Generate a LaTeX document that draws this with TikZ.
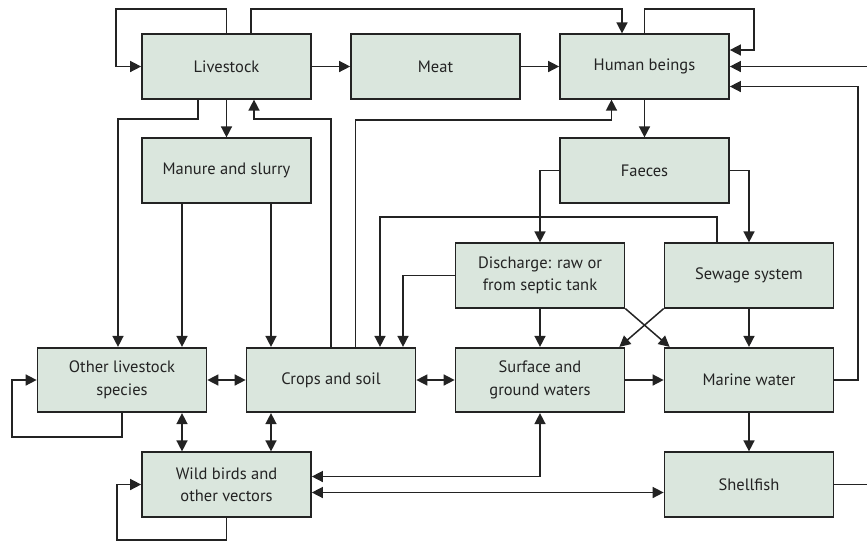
\documentclass[tikz,border=0pt]{standalone}
\usepackage{fontspec}
\setmainfont{PT Sans}
\usetikzlibrary{arrows.meta,calc}
\definecolor{boxfill}{RGB}{218,230,221}
\definecolor{ink}{RGB}{35,35,35}
\begin{document}
\begin{tikzpicture}[x=1pt,y=-1pt,
  box/.style={draw=ink, line width=1.7pt, fill=boxfill, minimum width=169pt, minimum height=64.5pt,
    inner sep=2pt, align=center, font=\fontsize{16.5}{22.5}\selectfont, text=ink},
  arr/.style={draw=ink, line width=1.5pt, -{Triangle[length=11pt,width=11pt]}},
  darr/.style={draw=ink, line width=1.5pt, {Triangle[length=11pt,width=11pt]}-{Triangle[length=11pt,width=11pt]}}]
\useasboundingbox (0,0) rectangle (867,542);
\clip (0,0) rectangle (867,542);
% nodes
\node[box] (live)   at (226.5,66.5) {Livestock};
\node[box] (meat)   at (435.5,66.5) {Meat};
\node[box] (human)  at (644.5,66.5) {Human beings};
\node[box] (manure) at (226.5,170.5) {Manure and slurry};
\node[box] (faeces) at (644.5,170.5) {Faeces};
\node[box] (disch)  at (540,275.5) {Discharge: raw or\\from septic tank};
\node[box] (sewage) at (749,275.5) {Sewage system};
\node[box] (other)  at (122,380) {Other livestock\\species};
\node[box] (crops)  at (331,380) {Crops and soil};
\node[box] (surface) at (540,380) {Surface and\\ground waters};
\node[box] (marine) at (749,380) {Marine water};
\node[box] (wild)   at (226.5,484.5) {Wild birds and\\other vectors};
\node[box] (shell)  at (749,484.5) {Shellfish};
% connectors
\draw[arr] (live.north) |- (116,9) |- (live.west);
\draw[arr] ($(live.north)+(24.5,0)$) |- (622,9) -- ($(human.north)+(-22.5,0)$);
\draw[arr] (live) -- (meat);
\draw[arr] (meat) -- (human);
\draw[arr] (human.north) |- (754,9) |- ($(human.east)+(0,-16.5)$);
\draw[arr] (shell.east) -- (880,484.5) |- (human.east);
\draw[arr] (marine.east) -- (858,380) |- ($(human.east)+(0,20)$);
\draw[arr] ($(live.south)+(-28.5,0)$) |- (118,119) -- ($(other.north)+(-4,0)$);
\draw[arr] (live) -- (manure);
\draw[arr] (crops.north) |- (254,119) -- ($(live.south)+(27.5,0)$);
\draw[arr] ($(crops.north)+(24.5,0)$) |- (611.5,120) -- ($(human.south)+(-33,0)$);
\draw[arr] (human) -- (faeces);
\draw[arr] ($(manure.south)+(-44.5,0)$) -- ($(other.north)+(60,0)$);
\draw[arr] ($(manure.south)+(44.5,0)$) -- ($(crops.north)+(-60,0)$);
\draw[arr] (faeces.west) -| (disch.north);
\draw[arr] (faeces.east) -| (sewage.north);
\draw[arr] ($(sewage.north)+(-32,0)$) |- (380,217) -- ($(crops.north)+(49,0)$);
\draw[arr] (disch.west) -| ($(crops.north)+(72,0)$);
\draw[arr] (disch) -- (surface);
\draw[arr] (sewage) -- (marine);
\draw[arr] (disch.south east) -- ($(marine.north west)+(6,0)$);
\draw[arr] (sewage.south west) -- ($(surface.north east)+(-6,0)$);
\draw[arr] (surface) -- (marine);
\draw[darr] (crops) -- (surface);
\draw[darr] (other) -- (crops);
\draw[darr] ($(other.south)+(60,0)$) -- ($(wild.north)+(-44.5,0)$);
\draw[darr] ($(crops.south)+(-60,0)$) -- ($(wild.north)+(44.5,0)$);
\draw[arr] (other.south) |- (12,437) |- (other.west);
\draw[arr] (wild.south) |- (117,540) |- (wild.west);
\draw[darr] (surface.south) |- ($(wild.east)+(0,-8)$);
\draw[darr] ($(wild.east)+(0,8)$) -- ($(shell.west)+(0,8)$);
\draw[arr] (marine) -- (shell);
\end{tikzpicture}
\end{document}
